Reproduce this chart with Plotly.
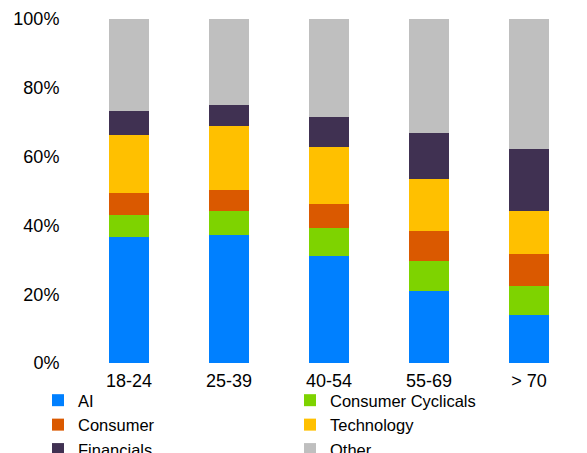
import plotly.graph_objects as go

categories = ["18-24", "25-39", "40-54", "55-69", "> 70"]
ai = [0.366, 0.372, 0.312, 0.210, 0.140]
consumer_cyclicals = [0.063, 0.070, 0.080, 0.087, 0.084]
consumer = [0.064, 0.060, 0.071, 0.086, 0.094]
technology = [0.169, 0.186, 0.166, 0.153, 0.123]
financials = [0.071, 0.061, 0.086, 0.132, 0.181]
other = [0.267, 0.251, 0.285, 0.332, 0.378]

series = [
    ("AI", ai, "#0080FF"),
    ("Consumer Cyclicals", consumer_cyclicals, "#7ED300"),
    ("Consumer", consumer, "#DA5900"),
    ("Technology", technology, "#FFC000"),
    ("Financials", financials, "#403152"),
    ("Other", other, "#BFBFBF"),
]

fig = go.Figure()
for name, vals, col in series:
    fig.add_trace(go.Bar(x=categories, y=vals, name=name,
                         marker=dict(color=col, line=dict(width=0))))

font = "Liberation Sans, Arial, sans-serif"
fig.update_layout(
    width=587, height=453,
    barmode="stack", bargap=0.6,
    paper_bgcolor="white", plot_bgcolor="white",
    margin=dict(l=79, r=8, t=19, b=90, autoexpand=False),
    font=dict(family=font, size=18, color="#000000"),
    xaxis=dict(showgrid=False, showline=False, zeroline=False,
               ticks="outside", ticklen=1, tickcolor="rgba(0,0,0,0)",
               tickfont=dict(size=18)),
    yaxis=dict(range=[0, 1], dtick=0.2, tickformat=".0%", showgrid=False,
               showline=False, zeroline=False,
               ticks="outside", ticklen=15, tickcolor="rgba(0,0,0,0)",
               tickfont=dict(size=18)),
    legend=dict(orientation="h", traceorder="normal",
                x=-0.082, xanchor="left", y=-0.058, yanchor="top",
                entrywidth=207, entrywidthmode="pixels",
                font=dict(size=16.5), bgcolor="rgba(0,0,0,0)"),
)

fig.write_html("out.html")
